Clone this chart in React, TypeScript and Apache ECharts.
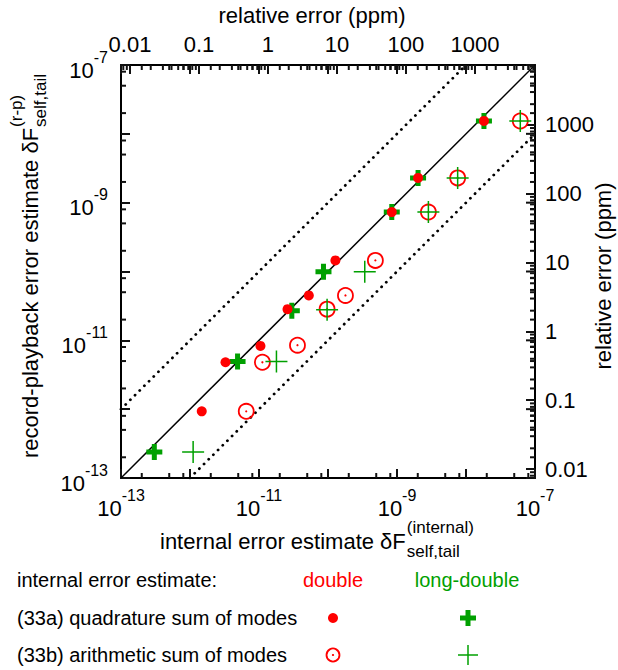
import React, { useEffect, useRef } from 'react';
import * as echarts from 'echarts';

// ---- data ----
const doubleQuadX = [1.48e-12, 3.27e-12, 1.05e-11, 2.59e-11, 5.27e-11, 1.28e-10, 8.4e-10, 2.02e-9, 1.82e-8];
const doubleQuadY = [9.3e-13, 4.8e-12, 8.3e-12, 2.84e-11, 4.49e-11, 1.45e-10, 7.3e-10, 2.29e-9, 1.54e-8];
const longQuadX = [3.04e-13, 4.89e-12, 2.99e-11, 8.6e-11, 8.4e-10, 2.02e-9, 1.82e-8];
const longQuadY = [2.39e-13, 4.94e-12, 2.69e-11, 9.9e-11, 7.3e-10, 2.29e-9, 1.54e-8];
const doubleArithX = [6.53e-12, 1.12e-11, 3.61e-11, 9.7e-11, 1.79e-10, 4.86e-10, 2.85e-9, 7.57e-9, 6.12e-8];
const doubleArithY = [9.3e-13, 4.8e-12, 8.5e-12, 2.84e-11, 4.49e-11, 1.45e-10, 7.3e-10, 2.29e-9, 1.54e-8];
const longArithX = [1.11e-12, 1.79e-11, 9.7e-11, 3.41e-10, 2.85e-9, 7.57e-9, 6.12e-8];
const longArithY = [2.39e-13, 4.94e-12, 2.78e-11, 9.9e-11, 7.3e-10, 2.29e-9, 1.54e-8];

const axisMin = 1e-13;
const axisMax = 1e-7;
const decades = [1e-13, 1e-12, 1e-11, 1e-10, 1e-9, 1e-8, 1e-7];
const minorMultipliers = [2, 5, 8];
const deltaForOnePpm = Math.pow(10, -10.87); // δF that corresponds to 1 ppm
const relDecades = [0.001, 0.01, 0.1, 1, 10, 100, 1000];
const relMinorMultipliers = [2, 3, 4, 5, 6, 7, 8, 9];
const relTickLabels = ['0.01', '0.1', '1', '10', '100', '1000'];
const guideFactors = [1, 10, 0.1];

const FONT = '"Liberation Sans", Arial, Helvetica, sans-serif';
const RED = '#ff0000';
const GREEN = '#00a000';
const TICK = '#111111';

const zip = (xs: number[], ys: number[]) => xs.map((x, i) => [x, ys[i]]);
const toRel = (d: number) => d / deltaForOnePpm;
const relMin = toRel(axisMin);
const relMax = toRel(axisMax);
const MID = 1e-10;

function measure(text: string, size: number) {
  const c = document.createElement('canvas').getContext('2d');
  if (!c) return text.length * size * 0.5;
  c.font = `${size}px "Liberation Sans"`;
  return c.measureText(text).width;
}

function expLabel(v: number) {
  const l = Math.log10(v);
  const e = Math.round(l);
  if (Math.abs(l - e) > 1e-6) return '';
  if (Math.abs(e) % 2 !== 1) return '';
  return `{b|10}{s|${e}}`;
}

function relLabel(v: number) {
  const l = Math.log10(v);
  const e = Math.round(l);
  if (Math.abs(l - e) > 1e-6) return '';
  const s = e < 0 ? Math.pow(10, e).toFixed(-e) : String(Math.pow(10, e));
  return relTickLabels.includes(s) ? s : '';
}

const expRich = () => ({
  b: { fontSize: 22, fontFamily: FONT, color: '#000', lineHeight: 32, verticalAlign: 'bottom' },
  s: { fontSize: 16, fontFamily: FONT, color: '#000', lineHeight: 12, verticalAlign: 'top' },
});

const THICK_PLUS = 'path://M5.5,0H10.5V5.5H16V10.5H10.5V16H5.5V10.5H0V5.5H5.5Z';
const THIN_PLUS = 'path://M0,10L20,10M10,0L10,20';

function stackedTitle(main: string, sup: string, sub: string, size: number, small: number) {
  const wMain = measure(main, size);
  const wSmall = Math.max(measure(sup, small), measure(sub, small));
  const total = wMain + 1 + wSmall;
  const children = [
    { type: 'text', x: 0, y: 0, style: { text: main, font: `${size}px ${FONT}`, fill: '#000', textAlign: 'left', textVerticalAlign: 'middle' } },
    { type: 'text', x: wMain + 1, y: -14, style: { text: sup, font: `${small}px ${FONT}`, fill: '#000', textAlign: 'left', textVerticalAlign: 'middle' } },
    { type: 'text', x: wMain + 1, y: 10, style: { text: sub, font: `${small}px ${FONT}`, fill: '#000', textAlign: 'left', textVerticalAlign: 'middle' } },
  ];
  return { total, children };
}

const minorOf = (bases: number[], mults: number[], lo: number, hi: number) => {
  const out: number[] = [];
  bases.forEach((b) => mults.forEach((m) => { const v = b * m; if (v > lo * 1.0001 && v < hi * 0.9999) out.push(v); }));
  return out;
};

// tick marks as a custom series positioned through the axes' scales
type Edge = 'bottom' | 'top' | 'left' | 'right';
function tickSeries(values: number[], edge: Edge, len: number, width: number, xIdx: number, yIdx: number) {
  const horizontal = edge === 'bottom' || edge === 'top';
  return {
    type: 'custom',
    coordinateSystem: 'cartesian2d',
    xAxisIndex: xIdx,
    yAxisIndex: yIdx,
    data: values.map((v) => (horizontal ? [v, MID] : [MID, v])),
    renderItem: (params: any, api: any) => {
      const p = api.coord([api.value(0), api.value(1)]);
      const e0 = api.coord([axisMin, axisMin]);
      const e1 = api.coord([axisMax, axisMax]);
      const st = { stroke: TICK, lineWidth: width };
      if (edge === 'bottom') return { type: 'line', shape: { x1: p[0], y1: e0[1], x2: p[0], y2: e0[1] - len }, style: st };
      if (edge === 'top') return { type: 'line', shape: { x1: p[0], y1: e1[1], x2: p[0], y2: e1[1] + len }, style: st };
      if (edge === 'left') return { type: 'line', shape: { x1: e0[0], y1: p[1], x2: e0[0] + len, y2: p[1] }, style: st };
      return { type: 'line', shape: { x1: e1[0], y1: p[1], x2: e1[0] - len, y2: p[1] }, style: st };
    },
  };
}

export default function App() {
  const ref = useRef<HTMLDivElement>(null);

  useEffect(() => {
    if (!ref.current) return;
    document.body.style.margin = '0';
    const chart = echarts.init(ref.current, undefined, { renderer: 'svg' });

    const guideSeries = guideFactors.map((f) => {
      const x0 = Math.max(axisMin, axisMin / f);
      const x1 = Math.min(axisMax, axisMax / f);
      return {
        type: 'line', xAxisIndex: 0, yAxisIndex: 0,
        data: [[x0, x0 * f], [x1, x1 * f]],
        symbol: 'none', silent: true, z: 1,
        lineStyle: f === 1
          ? { color: '#000', width: 1.5, type: 'solid' }
          : { color: '#000', width: 2.8, type: [0.1, 6.5], cap: 'round' },
      };
    });

    const innerDecades = decades.slice(1, -1);
    const minors = minorOf(decades, minorMultipliers, axisMin, axisMax);
    const relMinors = minorOf(relDecades, relMinorMultipliers, relMin, relMax);

    const ticks = [
      tickSeries(minors, 'bottom', 5, 2, 0, 0),
      tickSeries(minors, 'left', 5, 2, 0, 0),
      tickSeries(innerDecades, 'top', 9, 2, 0, 0),
      tickSeries(minors, 'top', 5, 2, 0, 0),
      tickSeries(innerDecades, 'right', 9, 2, 0, 0),
      tickSeries(minors, 'right', 5, 2, 0, 0),
      tickSeries(relMinors, 'top', 5, 2, 1, 0),
      tickSeries(relMinors, 'right', 5, 2, 0, 1),
    ];

    const bottomTitle = stackedTitle('internal error estimate \u03B4F', '(internal)', 'self,tail', 22, 17);
    const leftTitle = stackedTitle('record-playback error estimate \u03B4F', '(r-p)', 'self,tail', 22, 17);

    const axisLine = () => ({ onZero: false, lineStyle: { color: '#000', width: 2 } });
    const majorTick = () => ({ show: true, inside: true, length: 9, lineStyle: { color: TICK, width: 2 } });

    const option = {
      animation: false,
      grid: { left: 121, top: 65, width: 414, height: 413 },
      xAxis: [
        {
          type: 'log', min: axisMin, max: axisMax,
          splitLine: { show: false }, axisLine: axisLine(), axisTick: majorTick(),
          axisLabel: { formatter: expLabel, rich: expRich(), margin: 9 },
        },
        {
          type: 'log', position: 'top', min: relMin, max: relMax,
          splitLine: { show: false }, axisLine: axisLine(), axisTick: majorTick(),
          axisLabel: { formatter: relLabel, fontSize: 22, fontFamily: FONT, color: '#000', margin: 10 },
        },
      ],
      yAxis: [
        {
          type: 'log', min: axisMin, max: axisMax,
          splitLine: { show: false }, axisLine: axisLine(), axisTick: majorTick(),
          axisLabel: { formatter: expLabel, rich: expRich(), margin: 13, align: 'right' },
        },
        {
          type: 'log', position: 'right', min: relMin, max: relMax,
          splitLine: { show: false }, axisLine: axisLine(), axisTick: majorTick(),
          axisLabel: { formatter: relLabel, fontSize: 22, fontFamily: FONT, color: '#000', margin: 10 },
        },
      ],
      series: [
        ...guideSeries,
        ...ticks,
        {
          type: 'scatter', name: 'long-double (33a)', xAxisIndex: 0, yAxisIndex: 0, z: 3,
          data: zip(longQuadX, longQuadY), symbol: THICK_PLUS, symbolSize: 16,
          itemStyle: { color: GREEN, opacity: 1 },
        },
        {
          type: 'scatter', name: 'double (33a)', xAxisIndex: 0, yAxisIndex: 0, z: 4,
          data: zip(doubleQuadX, doubleQuadY), symbol: 'circle', symbolSize: 10,
          itemStyle: { color: RED, opacity: 1 },
        },
        {
          type: 'scatter', name: 'double (33b)', xAxisIndex: 0, yAxisIndex: 0, z: 5,
          data: zip(doubleArithX, doubleArithY), symbol: 'circle', symbolSize: 15,
          itemStyle: { color: 'rgba(0,0,0,0)', borderColor: RED, borderWidth: 1.8, opacity: 1 },
        },
        {
          type: 'scatter', name: 'double (33b) centre', xAxisIndex: 0, yAxisIndex: 0, z: 5,
          data: zip(doubleArithX, doubleArithY), symbol: 'circle', symbolSize: 2.2,
          itemStyle: { color: RED, opacity: 1 },
        },
        {
          type: 'scatter', name: 'long-double (33b)', xAxisIndex: 0, yAxisIndex: 0, z: 6,
          data: zip(longArithX, longArithY), symbol: THIN_PLUS, symbolSize: 22,
          itemStyle: { color: 'rgba(0,0,0,0)', borderColor: GREEN, borderWidth: 1.5, opacity: 1 },
        },
      ],
      graphic: [
        { type: 'text', x: 312, y: 15, style: { text: 'relative error (ppm)', font: `22px ${FONT}`, fill: '#000', textAlign: 'center', textVerticalAlign: 'middle' } },
        { type: 'text', x: 603, y: 276, rotation: Math.PI / 2, style: { text: 'relative error (ppm)', font: `22px ${FONT}`, fill: '#000', textAlign: 'center', textVerticalAlign: 'middle' } },
        { type: 'group', x: 160, y: 541, children: bottomTitle.children },
        { type: 'group', x: 30, y: 266 + leftTitle.total / 2, rotation: Math.PI / 2, children: leftTitle.children },
        { type: 'text', x: 17, y: 580, style: { text: 'internal error estimate:', font: `20px ${FONT}`, fill: '#000', textAlign: 'left', textVerticalAlign: 'middle' } },
        { type: 'text', x: 333, y: 580, style: { text: 'double', font: `20px ${FONT}`, fill: RED, textAlign: 'center', textVerticalAlign: 'middle' } },
        { type: 'text', x: 467, y: 580, style: { text: 'long-double', font: `20px ${FONT}`, fill: GREEN, textAlign: 'center', textVerticalAlign: 'middle' } },
        { type: 'text', x: 17, y: 618, style: { text: '(33a) quadrature sum of modes', font: `20px ${FONT}`, fill: '#000', textAlign: 'left', textVerticalAlign: 'middle' } },
        { type: 'text', x: 17, y: 655, style: { text: '(33b) arithmetic sum of modes', font: `20px ${FONT}`, fill: '#000', textAlign: 'left', textVerticalAlign: 'middle' } },
        { type: 'circle', shape: { cx: 333, cy: 618, r: 5 }, style: { fill: RED } },
        { type: 'rect', shape: { x: 468 - 8, y: 618 - 2.5, width: 16, height: 5 }, style: { fill: GREEN } },
        { type: 'rect', shape: { x: 468 - 2.5, y: 618 - 8, width: 5, height: 16 }, style: { fill: GREEN } },
        { type: 'circle', shape: { cx: 333, cy: 655, r: 6.5 }, style: { fill: 'none', stroke: RED, lineWidth: 1.8 } },
        { type: 'circle', shape: { cx: 333, cy: 655, r: 1.1 }, style: { fill: RED } },
        { type: 'line', shape: { x1: 458, y1: 655, x2: 478, y2: 655 }, style: { stroke: GREEN, lineWidth: 1.5 } },
        { type: 'line', shape: { x1: 468, y1: 645, x2: 468, y2: 665 }, style: { stroke: GREEN, lineWidth: 1.5 } },
      ],
    };

    chart.setOption(option as any);
    return () => chart.dispose();
  }, []);

  return <div ref={ref} style={{ width: 618, height: 670 }} />;
}
